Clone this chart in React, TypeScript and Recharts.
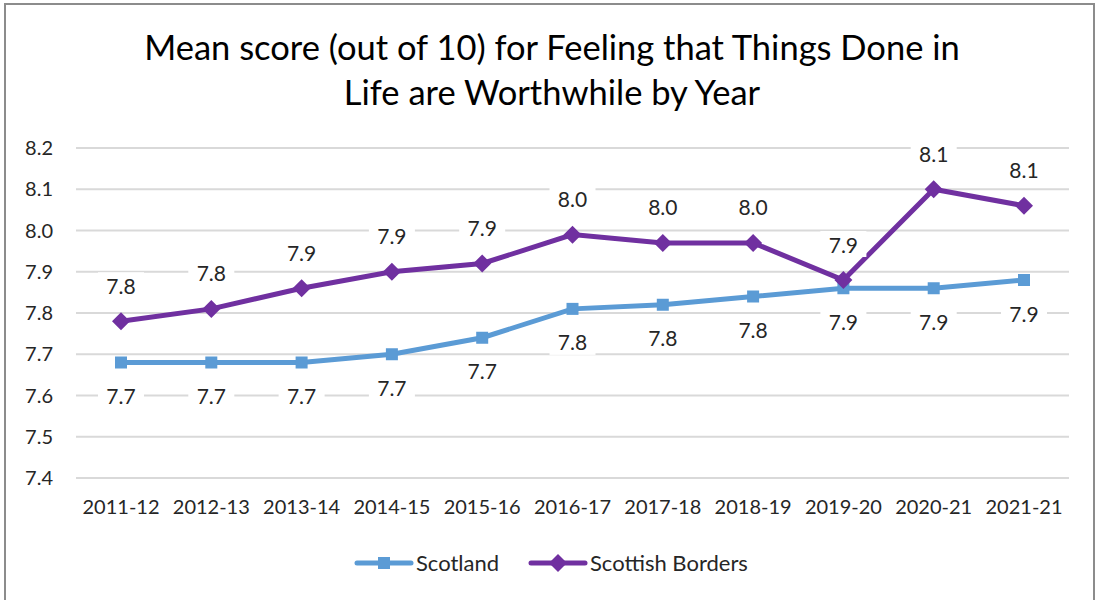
import React from 'react';
import { LineChart, Line, XAxis, YAxis, CartesianGrid, LabelList } from 'recharts';

const categories = ['2011-12', '2012-13', '2013-14', '2014-15', '2015-16', '2016-17', '2017-18', '2018-19', '2019-20', '2020-21', '2021-21'];
const scotland = [7.68, 7.68, 7.68, 7.70, 7.74, 7.81, 7.82, 7.84, 7.86, 7.86, 7.88];
const borders = [7.78, 7.81, 7.86, 7.90, 7.92, 7.99, 7.97, 7.97, 7.88, 8.10, 8.06];
const yTicks = [7.4, 7.5, 7.6, 7.7, 7.8, 7.9, 8.0, 8.1, 8.2];

const data = categories.map((c, i) => ({ year: c, scotland: scotland[i], borders: borders[i] }));

const FONT = 'Lato, sans-serif';
const TEXT = '#262626';
const BLUE = '#5B9BD5';
const PURPLE = '#7030A0';

const makeLabel = (dy: number) => (props: any) => {
  const { x, y, value } = props;
  if (x == null || y == null || value == null) return null;
  const cy = y + dy;
  return (
    <g>
      <rect x={x - 23} y={cy - 13} width={46} height={26} fill="#ffffff" />
      <text x={x} y={cy} textAnchor="middle" dominantBaseline="central" fontFamily={FONT} fontSize={21} fill={TEXT}>
        {Number(value).toFixed(1)}
      </text>
    </g>
  );
};

const SquareDot = (props: any) => {
  const { cx, cy } = props;
  if (cx == null || cy == null) return null;
  return <rect x={cx - 6} y={cy - 6} width={12} height={12} fill={BLUE} />;
};

const DiamondDot = (props: any) => {
  const { cx, cy } = props;
  if (cx == null || cy == null) return null;
  const r = 9;
  return <polygon points={`${cx},${cy - r} ${cx + r},${cy} ${cx},${cy + r} ${cx - r},${cy}`} fill={PURPLE} />;
};

export default function App() {
  return (
    <div style={{ position: 'absolute', left: 0, top: 0, width: 1099, height: 600, overflow: 'hidden', background: '#fff' }}>
      <div style={{ position: 'absolute', left: 4, top: 3, width: 1087, height: 600, borderTop: '2px solid #8c8c8c', borderLeft: '2px solid #8c8c8c', borderRight: '2px solid #8c8c8c' }} />
      <div style={{ position: 'absolute', left: 0, top: 24, width: 1104, textAlign: 'center', fontFamily: FONT, fontSize: 34.5, lineHeight: '45px', color: '#000' }}>
        Mean score (out of 10) for Feeling that Things Done in<br />Life are Worthwhile by Year
      </div>
      <div style={{ position: 'absolute', left: 0, top: 0 }}>
        <LineChart width={1099} height={600} data={data} margin={{ top: 148, right: 30, left: 0, bottom: 82 }}>
          <CartesianGrid vertical={false} stroke="#d9d9d9" strokeWidth={2} />
          <XAxis dataKey="year" axisLine={false} tickLine={false} tickSize={0} tickMargin={22} height={40} interval={0}
            padding={{ left: 45, right: 45 }}
            tick={{ fontFamily: FONT, fontSize: 20, fill: TEXT }} />
          <YAxis type="number" domain={[7.4, 8.2]} ticks={yTicks} axisLine={false} tickLine={false} tickSize={0} tickMargin={23} width={76}
            tickFormatter={(v: number) => v.toFixed(1)} tick={{ fontFamily: FONT, fontSize: 20, fill: TEXT }} />
          <Line dataKey="scotland" stroke={BLUE} strokeWidth={5} dot={<SquareDot />} activeDot={false} isAnimationActive={false}>
            <LabelList dataKey="scotland" content={makeLabel(33)} />
          </Line>
          <Line dataKey="borders" stroke={PURPLE} strokeWidth={5} dot={<DiamondDot />} activeDot={false} isAnimationActive={false}>
            <LabelList dataKey="borders" content={makeLabel(-36)} />
          </Line>
        </LineChart>
      </div>
      <div style={{ position: 'absolute', left: 0, top: 550, width: 1099, height: 26, fontFamily: FONT, fontSize: 22, color: TEXT }}>
        <svg width={60} height={26} style={{ position: 'absolute', left: 354, top: 0 }}>
          <line x1={3} y1={13} x2={57} y2={13} stroke={BLUE} strokeWidth={5} strokeLinecap="round" />
          <rect x={24} y={7} width={12} height={12} fill={BLUE} />
        </svg>
        <span style={{ position: 'absolute', left: 416, top: 0, lineHeight: '26px' }}>Scotland</span>
        <svg width={60} height={26} style={{ position: 'absolute', left: 528, top: 0 }}>
          <line x1={3} y1={13} x2={57} y2={13} stroke={PURPLE} strokeWidth={5} strokeLinecap="round" />
          <polygon points="30,4 39,13 30,22 21,13" fill={PURPLE} />
        </svg>
        <span style={{ position: 'absolute', left: 590, top: 0, lineHeight: '26px' }}>Scottish Borders</span>
      </div>
    </div>
  );
}
